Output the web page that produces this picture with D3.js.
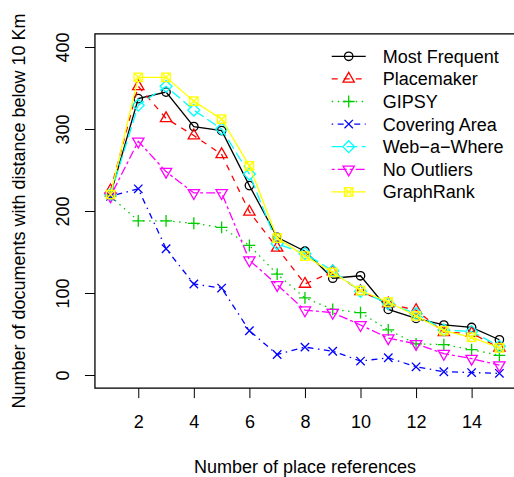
<!doctype html>
<html>

<head>
    <style>
        body {
            margin: 0;
            background: #fff;
        }

        text {
            font-family: "Liberation Sans", Arial, sans-serif;
            font-size: 18px;
            fill: #000;
        }

        .axis path {
            display: none;
        }

        .axis line {
            stroke: #000;
        }
    </style>
    <script src="https://d3js.org/d3.v7.min.js"></script>
</head>

<body>
    <script>
        // values
        const refs = [1, 2, 3, 4, 5, 6, 7, 8, 9, 10, 11, 12, 13, 14, 15]
        const mostFrequent = [220, 337, 345, 303, 298, 231, 168, 151, 118, 121, 80, 69, 61, 58, 43]
        const placemaker = [225, 352, 313, 292, 269, 199, 155, 111, 126, 102, 87, 79, 52, 51, 33]
        const gipsy = [218, 188, 188, 185, 180, 158, 123, 94, 80, 76, 55, 38, 37, 31, 24]
        const coveringArea = [218, 227, 154, 111, 106, 54, 25, 34, 29, 17, 21, 10, 4, 3, 2]
        const webAWhere = [220, 329, 352, 323, 300, 245, 160, 148, 127, 102, 87, 75, 55, 53, 35]
        const noOutliers = [218, 285, 248, 222, 222, 140, 110, 79, 76, 61, 45, 38, 26, 20, 12]
        const graphRank = [220, 363, 363, 334, 312, 255, 167, 145, 125, 103, 89, 72, 54, 46, 33]

        const seriesNames = ["Most Frequent", "Placemaker", "GIPSY", "Covering Area", "Web\u2212a\u2212Where", "No Outliers", "GraphRank"]
        const xTicks = [2, 4, 6, 8, 10, 12, 14]
        const yTicks = [0, 100, 200, 300, 400]

        // R style: colour, lty dash, pch
        const styles = [
            { color: "#000000", dash: null, pch: "circle" },
            { color: "#FF0000", dash: "6,6", pch: "triUp" },
            { color: "#00CD00", dash: "1.5,4.5", pch: "plus" },
            { color: "#0000FF", dash: "1.5,4.5,6,4.5", pch: "cross" },
            { color: "#00FFFF", dash: "10.5,4.5", pch: "diamond" },
            { color: "#FF00FF", dash: "3,3,9,3", pch: "triDown" },
            { color: "#FFFF00", dash: null, pch: "boxX" },
        ]
        const allSeries = [mostFrequent, placemaker, gipsy, coveringArea, webAWhere, noOutliers, graphRank]

        const svg = d3.select("body").append("svg")
            .attr("width", 514)
            .attr("height", 477)

        const x = d3.scaleLinear().domain([1, 15]).range([110.5, 499.4])
        const y = d3.scaleLinear().domain([0, 400]).range([375, 47])

        const boxL = x(0.44), boxR = x(15.56), boxT = y(416), boxB = y(-16)

        // axes
        svg.append("g")
            .attr("class", "axis")
            .attr("transform", `translate(0,${boxB})`)
            .call(d3.axisBottom(x).tickValues(xTicks).tickSize(10).tickPadding(17.5))
            .selectAll("text").style("font-size", "18px").style("font-family", "Liberation Sans, Arial, sans-serif")

        const yAxis = svg.append("g")
            .attr("class", "axis")
            .attr("transform", `translate(${boxL},0)`)
            .call(d3.axisLeft(y).tickValues(yTicks).tickSize(10))
        yAxis.selectAll("text")
            .attr("x", 0).attr("dy", 0)
            .attr("text-anchor", "middle")
            .attr("transform", `translate(${68.5 - boxL},0) rotate(-90)`)
            .style("font-size", "18px").style("font-family", "Liberation Sans, Arial, sans-serif")

        // box
        svg.append("rect")
            .attr("x", boxL).attr("y", boxT)
            .attr("width", boxR - boxL).attr("height", boxB - boxT)
            .attr("fill", "none").attr("stroke", "#000").attr("stroke-width", 1.3)

        // titles
        svg.append("text")
            .attr("x", (boxL + boxR) / 2).attr("y", 473)
            .attr("text-anchor", "middle")
            .text("Number of place references")
        svg.append("text")
            .attr("transform", `translate(25,${(boxT + boxB) / 2}) rotate(-90)`)
            .attr("text-anchor", "middle")
            .text("Number of documents with distance below 10 Km")

        const r = 4.2
        const drawMark = (g, pch, color) => {
            const s = { fill: "none", stroke: color, "stroke-width": 1.3 }
            const put = el => { Object.entries(s).forEach(([k, v]) => el.attr(k, v)); return el }
            if (pch === "circle") put(g.append("circle").attr("r", r))
            if (pch === "triUp" || pch === "triDown") {
                const f = pch === "triUp" ? 1 : -1
                const pts = [[0, -1.5551 * r * f], [1.3468 * r, 0.7776 * r * f], [-1.3468 * r, 0.7776 * r * f]]
                put(g.append("polygon").attr("points", pts.map(p => p.join(",")).join(" ")))
            }
            if (pch === "plus") {
                const a = 1.414 * r
                put(g.append("path").attr("d", `M${-a},0H${a}M0,${-a}V${a}`))
            }
            if (pch === "cross") {
                put(g.append("path").attr("d", `M${-r},${-r}L${r},${r}M${-r},${r}L${r},${-r}`))
            }
            if (pch === "diamond") {
                const a = 1.414 * r
                put(g.append("path").attr("d", `M0,${-a}L${a},0L0,${a}L${-a},0Z`))
            }
            if (pch === "boxX") {
                put(g.append("rect").attr("x", -r).attr("y", -r).attr("width", 2 * r).attr("height", 2 * r))
                put(g.append("path").attr("d", `M${-r},${-r}L${r},${r}M${-r},${r}L${r},${-r}`))
            }
        }

        const line = d3.line().x((d, i) => x(refs[i])).y(d => y(d))

        allSeries.forEach((vals, k) => {
            const st = styles[k]
            const g = svg.append("g")
            g.append("path")
                .datum(vals)
                .attr("d", line)
                .attr("fill", "none")
                .attr("stroke", st.color)
                .attr("stroke-width", 1.3)
                .attr("stroke-dasharray", st.dash)
            g.selectAll("g.pt")
                .data(vals)
                .enter()
                .append("g")
                .attr("transform", (d, i) => `translate(${x(refs[i])},${y(d)})`)
                .each(function () { drawMark(d3.select(this), st.pch, st.color) })
        })

        // legend
        const legend = svg.append("g")
        seriesNames.forEach((name, k) => {
            const st = styles[k]
            const ly = 56.3 + k * 22.6
            legend.append("line")
                .attr("x1", 331.7).attr("x2", 365.7)
                .attr("y1", ly).attr("y2", ly)
                .attr("stroke", st.color).attr("stroke-width", 1.3)
                .attr("stroke-dasharray", st.dash)
            drawMark(legend.append("g").attr("transform", `translate(348.7,${ly})`), st.pch, st.color)
            legend.append("text")
                .attr("x", 382.7).attr("y", ly).attr("dy", "0.36em")
                .text(name)
        })
    </script>
</body>

</html>
